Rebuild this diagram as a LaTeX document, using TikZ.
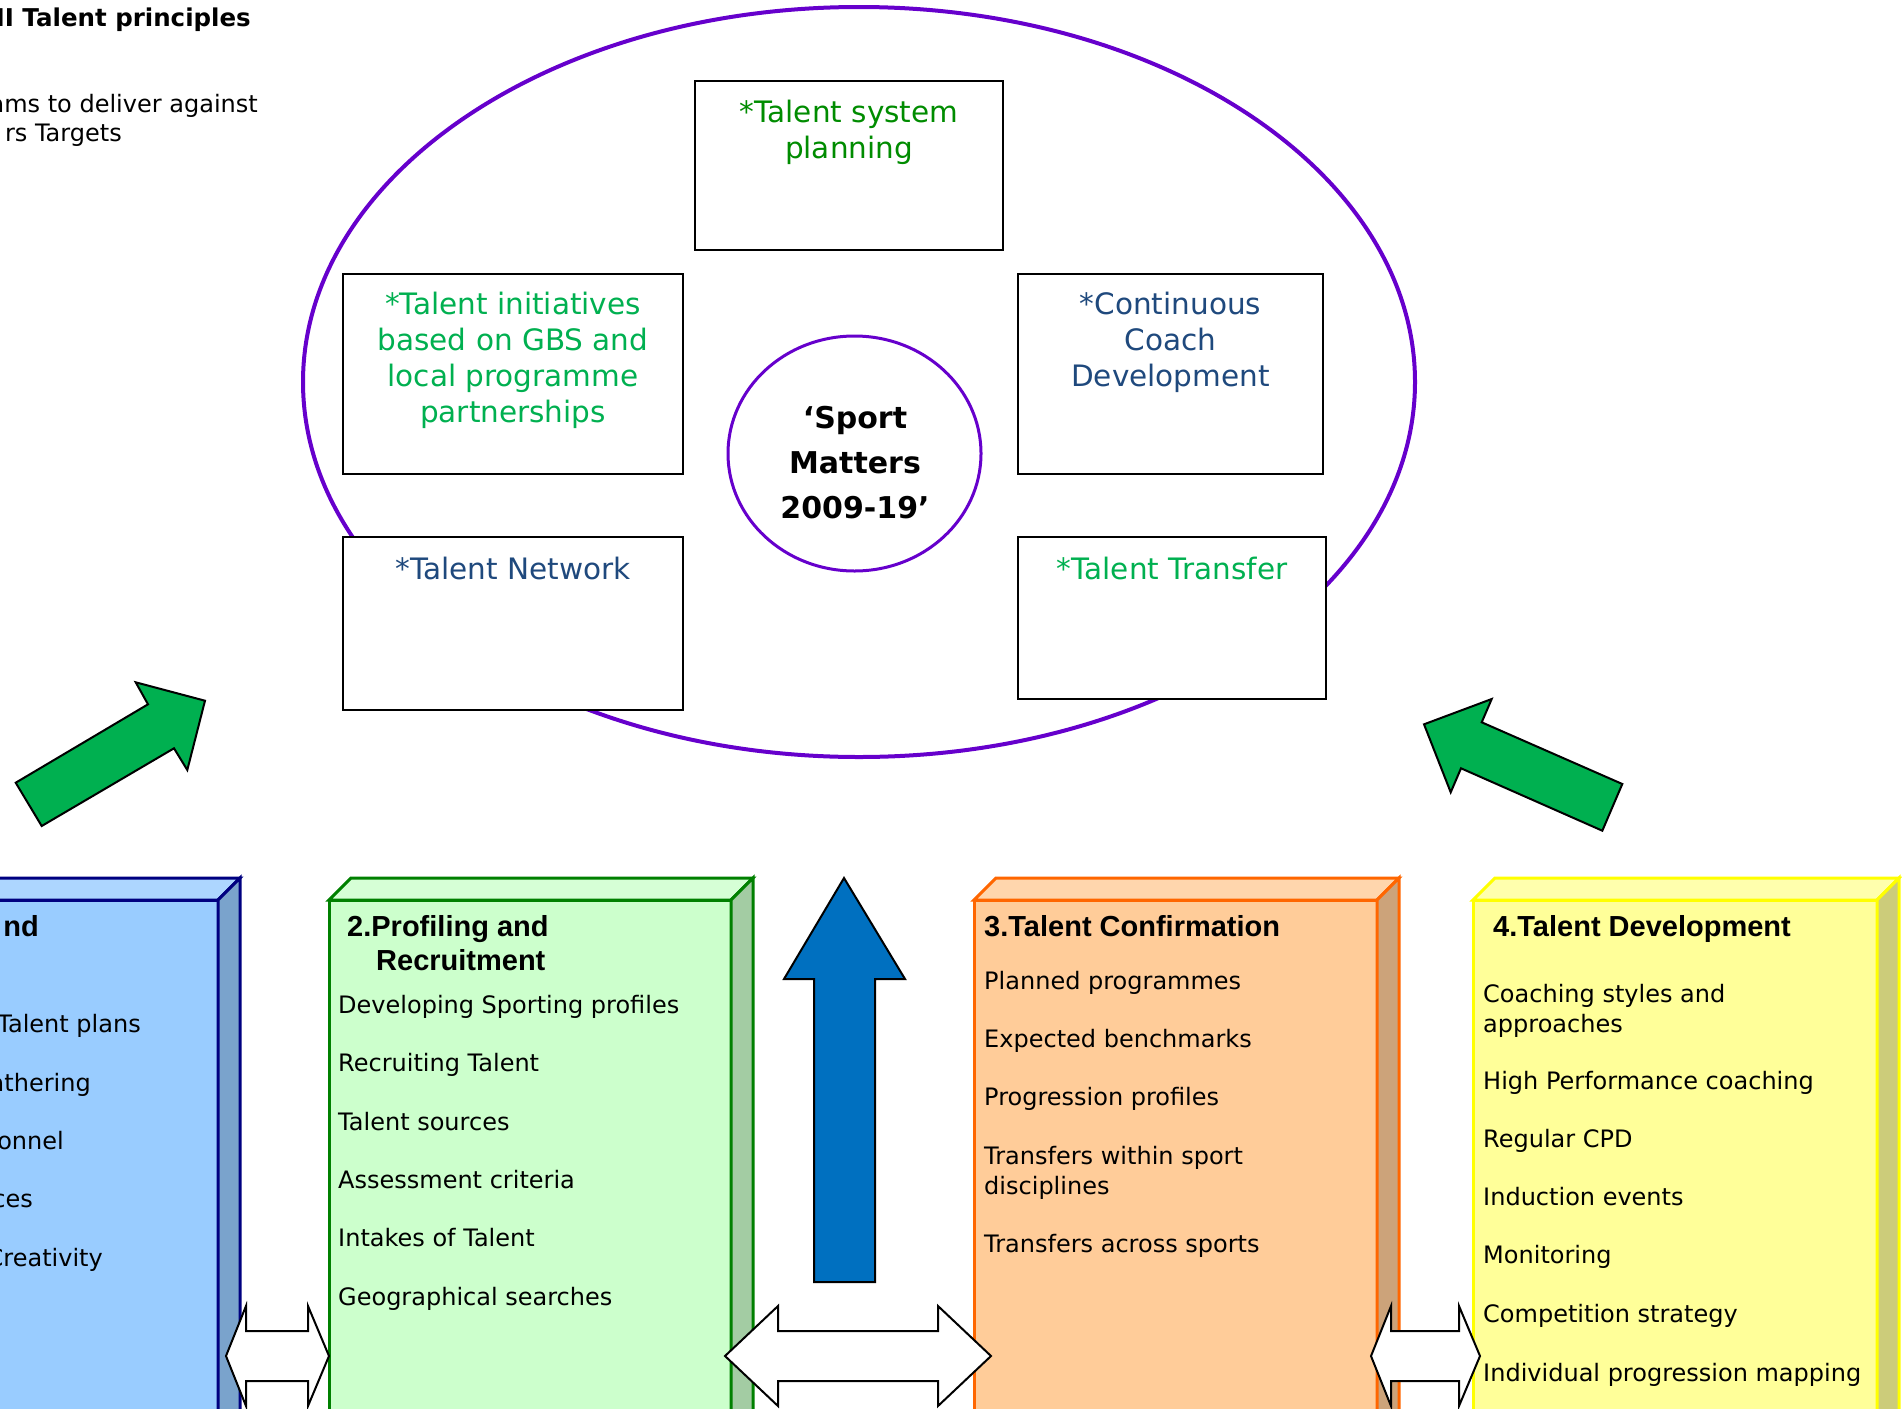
\documentclass[tikz,border=0pt]{standalone}
\usepackage{fontspec}
\setmainfont{DejaVu Sans}
\newfontfamily\headfont{Liberation Sans}
\usetikzlibrary{shapes.geometric}
\definecolor{ellpurple}{RGB}{102,0,204}
\definecolor{darkgreentxt}{RGB}{0,140,0}
\definecolor{lightgreentxt}{RGB}{0,176,80}
\definecolor{navytxt}{RGB}{31,73,125}
\definecolor{arrowgreen}{RGB}{0,176,80}
\definecolor{arrowblue}{RGB}{0,112,192}
\definecolor{bafront}{RGB}{153,204,255}\definecolor{batop}{RGB}{173,214,255}\definecolor{baside}{RGB}{122,163,204}\definecolor{baline}{RGB}{0,0,128}
\definecolor{bbfront}{RGB}{204,255,204}\definecolor{bbtop}{RGB}{214,255,214}\definecolor{bbside}{RGB}{163,204,163}\definecolor{bbline}{RGB}{0,128,0}
\definecolor{bcfront}{RGB}{255,204,153}\definecolor{bctop}{RGB}{255,214,173}\definecolor{bcside}{RGB}{204,163,122}\definecolor{bcline}{RGB}{255,102,0}
\definecolor{bdfront}{RGB}{255,255,153}\definecolor{bdtop}{RGB}{255,255,173}\definecolor{bdside}{RGB}{204,204,122}\definecolor{bdline}{RGB}{255,255,0}
\begin{document}
\begin{tikzpicture}[x=1pt,y=-1pt,
  topbox/.style={draw=black, line width=2.5pt, fill=white, inner sep=0pt, outer sep=0pt},
  toptext/.style={font=\fontsize{29.5}{36}\selectfont, align=center, anchor=north, inner sep=0pt, execute at begin node={\rule{0pt}{26pt}}},
  itemtext/.style={font=\fontsize{24}{30}\selectfont, align=left, anchor=north west, inner sep=0pt, execute at begin node={\rule{0pt}{22pt}}},
  cuttext/.style={font=\fontsize{24}{30}\selectfont, anchor=base east, inner sep=0pt},
  headtext/.style={font=\headfont\bfseries\fontsize{29}{34}\selectfont, align=left, anchor=north west, inner sep=0pt, execute at begin node={\rule{0pt}{25pt}}},
  frontface/.style={draw=#1, line width=3pt, outer sep=0pt, inner sep=0pt, anchor=north west, minimum height=560pt},
  facepath/.style={draw=#1, line width=3pt, line join=miter},
  blockarrow/.style={draw=black, line width=2pt, line join=miter},
]
\useasboundingbox (0,0) rectangle (1902,1408);

% top-left texts (cut at the left edge)
\node[font=\bfseries\fontsize{24.5}{30}\selectfont, anchor=base east, inner sep=0pt] (ttl) at (251,26) {NI Talent principles};
\node[cuttext] (tl1) at (258,112) {ams to deliver against};
\node[cuttext] (tl2) at (122,141) {rs Targets};

% big ellipse
\node[draw=ellpurple, line width=4pt, ellipse, inner sep=0pt, minimum width=1112pt, minimum height=750pt] (outer) at (859,382) {};

% inner boxes
\node[topbox, minimum width=308pt, minimum height=169pt] (tsp) at (849,165.5) {};
\node[toptext, text=darkgreentxt] (tspt) at (849,100) {*Talent system\\planning};
\node[topbox, minimum width=340pt, minimum height=200pt] (tin) at (513,374) {};
\node[toptext, text=lightgreentxt] (tint) at (513,292) {*Talent initiatives\\based on GBS and\\local programme\\partnerships};
\node[topbox, minimum width=305pt, minimum height=200pt] (ccd) at (1170.5,374) {};
\node[toptext, text=navytxt] (ccdt) at (1170.5,292) {*Continuous\\Coach\\Development};
\node[topbox, minimum width=340pt, minimum height=173pt] (tnw) at (513,623.5) {};
\node[toptext, text=navytxt] (tnwt) at (513,553) {*Talent Network};
\node[topbox, minimum width=308pt, minimum height=162pt] (ttr) at (1172,618) {};
\node[toptext, text=lightgreentxt] (ttrt) at (1172,553) {*Talent Transfer};

% central circle
\node[draw=ellpurple, line width=3pt, ellipse, fill=white, inner sep=0pt, minimum width=253pt, minimum height=235pt] (sm) at (854.5,453.5) {};
\node[font=\bfseries\fontsize{30}{45}\selectfont, align=center, anchor=north, inner sep=0pt, execute at begin node={\rule{0pt}{28pt}}] (smt) at (855,406) {`Sport\\Matters\\2009-19'};

% green arrows
\draw[blockarrow, fill=arrowgreen] (15.7,782.7) -- (148,704.3) -- (135.7,682.3) -- (205,700.7) -- (187.3,770) -- (174,748.3) -- (41.7,826) -- cycle;
\draw[blockarrow, fill=arrowgreen] (1424,724.3) -- (1491.7,699) -- (1481.7,722.3) -- (1622.3,784) -- (1602.3,830.7) -- (1461,768.3) -- (1450.7,792.3) -- cycle;

% box 1 (blue)
\node[frontface=baline, fill=bafront, minimum width=400pt] (ba) at (-182,900) {};
\filldraw[facepath=baline, fill=batop] (ba.north west) -- ++(22,-22) -- ([shift={(22,-22)}]ba.north east) -- (ba.north east) -- cycle;
\filldraw[facepath=baline, fill=baside] (ba.north east) -- ++(22,-22) -- ([shift={(22,-22)}]ba.south east) -- (ba.south east) -- cycle;
\node[headtext, anchor=base east] (bah) at (39,936) {nd};
\node[cuttext] (ba1) at (141,1032) {Talent plans};
\node[cuttext] (ba2) at (91,1091) {athering};
\node[cuttext] (ba3) at (64,1149) {onnel};
\node[cuttext] (ba4) at (33,1207) {ces};
\node[cuttext] (ba5) at (103,1266) {Creativity};

% box 2 (green)
\node[frontface=bbline, fill=bbfront, minimum width=402pt] (bb) at (329,900) {};
\filldraw[facepath=bbline, fill=bbtop] (bb.north west) -- ++(22,-22) -- ([shift={(22,-22)}]bb.north east) -- (bb.north east) -- cycle;
\filldraw[facepath=bbline, fill=bbside] (bb.north east) -- ++(22,-22) -- ([shift={(22,-22)}]bb.south east) -- (bb.south east) -- cycle;
\node[headtext] (bbh) at (347,915) {2.Profiling and\\\hspace*{29pt}Recruitment};
\node[itemtext] (bb1) at (338,991) {Developing Sporting profiles};
\node[itemtext] (bb2) at (338,1049) {Recruiting Talent};
\node[itemtext] (bb3) at (338,1108) {Talent sources};
\node[itemtext] (bb4) at (338,1166) {Assessment criteria};
\node[itemtext] (bb5) at (338,1224) {Intakes of Talent};
\node[itemtext] (bb6) at (338,1283) {Geographical searches};

% box 3 (orange)
\node[frontface=bcline, fill=bcfront, minimum width=403pt] (bc) at (974,900) {};
\filldraw[facepath=bcline, fill=bctop] (bc.north west) -- ++(22,-22) -- ([shift={(22,-22)}]bc.north east) -- (bc.north east) -- cycle;
\filldraw[facepath=bcline, fill=bcside] (bc.north east) -- ++(22,-22) -- ([shift={(22,-22)}]bc.south east) -- (bc.south east) -- cycle;
\node[headtext] (bch) at (984,911) {3.Talent Confirmation};
\node[itemtext] (bc1) at (984,967) {Planned programmes};
\node[itemtext] (bc2) at (984,1025) {Expected benchmarks};
\node[itemtext] (bc3) at (984,1083) {Progression profiles};
\node[itemtext] (bc4) at (984,1146) {Transfers within sport\\disciplines};
\node[itemtext] (bc5) at (984,1230) {Transfers across sports};

% box 4 (yellow)
\node[frontface=bdline, fill=bdfront, minimum width=404pt] (bd) at (1473,900) {};
\filldraw[facepath=bdline, fill=bdtop] (bd.north west) -- ++(22,-22) -- ([shift={(22,-22)}]bd.north east) -- (bd.north east) -- cycle;
\filldraw[facepath=bdline, fill=bdside] (bd.north east) -- ++(22,-22) -- ([shift={(22,-22)}]bd.south east) -- (bd.south east) -- cycle;
\node[headtext] (bdh) at (1493,911) {4.Talent Development};
\node[itemtext] (bd1) at (1483,984) {Coaching styles and\\approaches};
\node[itemtext] (bd2) at (1483,1067) {High Performance coaching};
\node[itemtext] (bd3) at (1483,1125) {Regular CPD};
\node[itemtext] (bd4) at (1483,1183) {Induction events};
\node[itemtext] (bd5) at (1483,1241) {Monitoring};
\node[itemtext] (bd6) at (1483,1300) {Competition strategy};
\node[itemtext] (bd7) at (1483,1359) {Individual progression mapping};

% blue up arrow
\draw[blockarrow, fill=arrowblue] (844,878) -- (905,979) -- (875,979) -- (875,1282) -- (814,1282) -- (814,979) -- (784,979) -- cycle;

% double arrows
\draw[blockarrow, fill=white] (226,1356) -- (246,1306) -- (246,1331) -- (308,1331) -- (308,1306) -- (329,1356) -- (308,1406) -- (308,1381) -- (246,1381) -- (246,1406) -- cycle;
\draw[blockarrow, fill=white] (725,1356) -- (778,1306) -- (778,1331) -- (938,1331) -- (938,1306) -- (991,1356) -- (938,1406) -- (938,1381) -- (778,1381) -- (778,1406) -- cycle;
\draw[blockarrow, fill=white] (1371,1356) -- (1391,1306) -- (1391,1331) -- (1459,1331) -- (1459,1306) -- (1480,1356) -- (1459,1406) -- (1459,1381) -- (1391,1381) -- (1391,1406) -- cycle;
\end{tikzpicture}
\end{document}
